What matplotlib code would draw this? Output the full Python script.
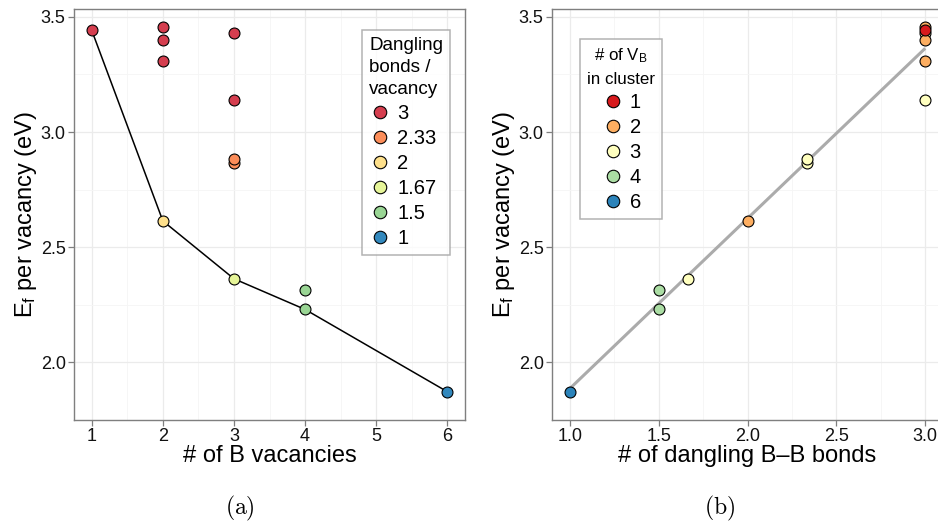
import numpy as np
import pandas as pd
import matplotlib
matplotlib.use("Agg")
import matplotlib.pyplot as plt
from matplotlib.lines import Line2D

plt.rcParams['font.family'] = ['Liberation Sans', 'DejaVu Sans']
plt.rcParams['mathtext.fontset'] = 'custom'
plt.rcParams['mathtext.rm'] = 'Liberation Sans'
plt.rcParams['mathtext.it'] = 'Liberation Sans:italic'

# formation energies of the B-vacancy clusters
n_vacancies = [1, 2, 2, 2, 2, 3, 3, 3, 3, 3, 4, 4, 6]
energy = [3.441, 3.455, 3.400, 3.309, 2.614, 3.431, 3.141, 2.866, 2.884,
          2.363, 2.316, 2.230, 1.873]
dangling = [3, 3, 3, 3, 2, 3, 3, 2.333, 2.333, 1.667, 1.5, 1.5, 1]

dangling_levels = [3, 2.333, 2, 1.667, 1.5, 1]
dangling_labels = ['3', '2.33', '2', '1.67', '1.5', '1']
dangling_colors = ['#D53E4F', '#FC8D59', '#FEE08B', '#E6F598', '#99D594', '#3288BD']

vac_levels = [1, 2, 3, 4, 6]
vac_colors = ['#D7191C', '#FDAE61', '#FFFFBF', '#ABDDA4', '#2B83BA']

df = pd.DataFrame({'n': n_vacancies, 'E': energy, 'db': dangling})

W, H = 938, 524
fig = plt.figure(figsize=(W / 100, H / 100), dpi=100)
ax1 = fig.add_axes([74 / W, 104 / H, 391 / W, 411 / H])
ax2 = fig.add_axes([552 / W, 104 / H, 391 / W, 411 / H])

GRID = '#EBEBEB'
MARK_S = 62
TICK_FS = 13
LABEL_FS = 17
LEG_FS = 14.5


def style_ax(ax):
    ax.set_axisbelow(True)
    ax.grid(True, which='major', color=GRID, lw=0.9)
    ax.grid(True, which='minor', color='#F5F5F5', lw=0.6)
    for sp in ax.spines.values():
        sp.set_color('#7F7F7F')
        sp.set_linewidth(1.0)
    ax.tick_params(which='major', length=4, width=0.9, color='#7F7F7F',
                   labelsize=TICK_FS, labelcolor='#111111', pad=2)
    ax.tick_params(which='minor', length=0)
    ax.set_ylim(1.794, 3.534)
    ax.set_yticks([2.0, 2.5, 3.0, 3.5])
    ax.set_yticks([1.75, 2.25, 2.75, 3.25], minor=True)
    ax.set_yticklabels(['2.0', '2.5', '3.0', '3.5'])
    ax.set_ylabel(r'E$_\mathrm{f}$ per vacancy (eV)', fontsize=LABEL_FS,
                  labelpad=1)


def legend_handles(colors):
    return [Line2D([], [], ls='', marker='o', ms=9, mfc=c, mec='black',
                   mew=0.8) for c in colors]


# (a) energy vs number of vacancies
style_ax(ax1)
lowest = df.groupby('n')['E'].min()
ax1.plot(lowest.index, lowest.values, color='black', lw=1.1, zorder=2)
for lev, col in zip(dangling_levels, dangling_colors):
    sub = df[df['db'] == lev]
    ax1.scatter(sub['n'], sub['E'], s=MARK_S, c=col, edgecolors='black',
                linewidths=0.8, zorder=3)
ax1.set_xlim(0.75, 6.25)
ax1.set_xticks([1, 2, 3, 4, 5, 6])
ax1.set_xticks([1.5, 2.5, 3.5, 4.5, 5.5], minor=True)
ax1.set_xlabel('# of B vacancies', fontsize=LABEL_FS, labelpad=0)

leg1 = ax1.legend(legend_handles(dangling_colors), dangling_labels,
                  title='Dangling\nbonds /\nvacancy',
                  loc='upper left', bbox_to_anchor=(0.737, 0.95),
                  fontsize=LEG_FS, title_fontsize=13.6, frameon=True,
                  fancybox=False, edgecolor='#A0A0A0', borderpad=0.35,
                  labelspacing=0.3, handletextpad=0.3, handlelength=1.1,
                  alignment='left', borderaxespad=0)
leg1.get_title().set_linespacing(1.4)
leg1.get_frame().set_linewidth(1.1)

# (b) energy vs dangling bonds per vacancy
style_ax(ax2)
slope, icpt = np.polyfit(df['db'], df['E'], 1)
xf = np.array([1.0, 3.0])
ax2.plot(xf, slope * xf + icpt, color='#ABABAB', lw=2.2, zorder=2,
         solid_capstyle='butt')
for lev, col in list(zip(vac_levels, vac_colors))[::-1]:
    sub = df[df['n'] == lev]
    ax2.scatter(sub['db'], sub['E'], s=MARK_S, c=col, edgecolors='black',
                linewidths=0.8, zorder=3)
ax2.set_xlim(0.9, 3.1)
ax2.set_xticks([1.0, 1.5, 2.0, 2.5, 3.0])
ax2.set_xticklabels(['1.0', '1.5', '2.0', '2.5', '3.0'])
ax2.set_xticks([1.25, 1.75, 2.25, 2.75], minor=True)
ax2.set_xlabel('# of dangling B\u2013B bonds', fontsize=LABEL_FS, labelpad=0)

leg2 = ax2.legend(legend_handles(vac_colors), [str(v) for v in vac_levels],
                  title='# of V$_\\mathrm{B}$\nin cluster',
                  loc='upper left', bbox_to_anchor=(0.072, 0.927),
                  fontsize=LEG_FS, title_fontsize=12.2, frameon=True,
                  fancybox=False, edgecolor='#A0A0A0', borderpad=0.35,
                  labelspacing=0.3, handletextpad=0.3, handlelength=1.1,
                  borderaxespad=0)
leg2.get_title().set_multialignment('center')
leg2.get_title().set_linespacing(1.6)
leg2.get_frame().set_linewidth(1.1)

fig.text(240 / W, 1 - 508 / H, r'$\mathrm{(a)}$', ha='center', va='center',
         fontsize=17, math_fontfamily='cm')
fig.text(720 / W, 1 - 508 / H, r'$\mathrm{(b)}$', ha='center', va='center',
         fontsize=17, math_fontfamily='cm')

fig.savefig('out.png', dpi=100)
